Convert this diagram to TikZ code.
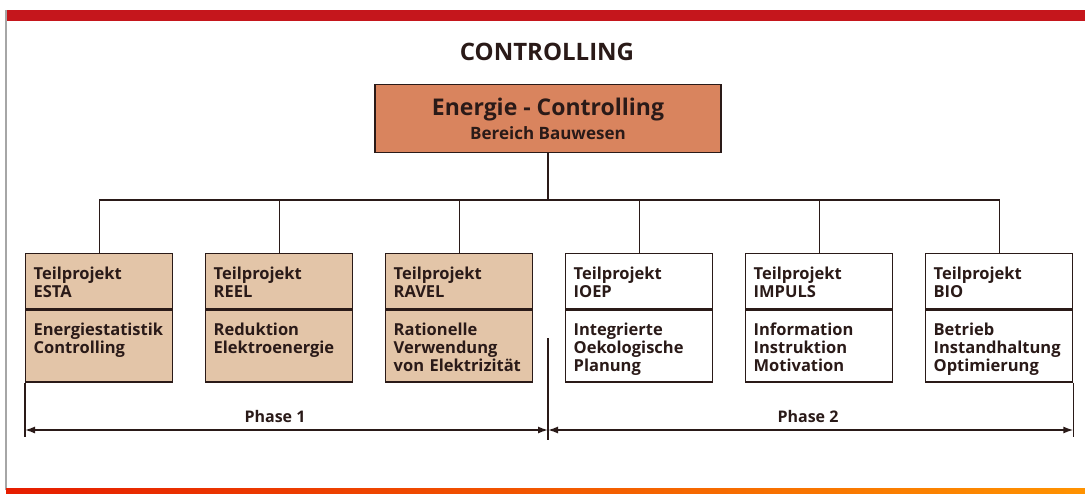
\documentclass[tikz,border=0pt]{standalone}
\usepackage{fontspec}
\setmainfont{Open Sans}
\usepackage{tikz}
\usetikzlibrary{arrows.meta,positioning,calc}
\usepackage{xcolor}

\definecolor{barred}{HTML}{C5161C}
\definecolor{headfill}{HTML}{D9845E}
\definecolor{phasefill}{HTML}{E3C5A8}
\definecolor{inkdark}{HTML}{2A1A18}

\tikzset{
  partbox/.style={draw=inkdark, line width=1.3pt, text=inkdark, text width=131pt,
    inner xsep=8pt, inner ysep=0pt, align=left, anchor=north west,
    font=\bfseries\fontsize{16.5}{18}\selectfont,
    execute at begin node={\rule{0pt}{26pt}}},
  upper/.style={partbox, execute at end node={\rule[-11pt]{0pt}{11pt}}},
  lower/.style={partbox, below=0pt of #1, execute at end node={\rule[-10pt]{0pt}{10pt}}},
  link/.style={draw=inkdark, line width=1.1pt},
  span/.style={draw=inkdark, line width=1.4pt, {Latex[length=10pt,width=7pt]}-{Latex[length=10pt,width=7pt]}},
}

\begin{document}
\begin{tikzpicture}[x=1pt,y=-1pt]
  \useasboundingbox (0,0) rectangle (1085,493);

  % frame
  \fill[barred] (6,10) rectangle (1085,21);
  \draw[gray!70, line width=1.4pt] (6,10) -- (6,490);
  \shade[left color=red!75!orange!90!black, right color=orange!85!yellow] (6,488) rectangle (1085,493);

  \node[font=\bfseries\fontsize{24}{28}\selectfont, text=inkdark] (title) at (547,52) {CONTROLLING};

  \node[draw=inkdark, line width=1.3pt, fill=headfill, text=inkdark, minimum width=346pt,
        minimum height=68pt, align=center, anchor=north] (top) at (548,84)
    {\fontsize{23}{26}\selectfont\bfseries Energie - Controlling\\[4pt]
     \fontsize{17}{19}\selectfont\bfseries Bereich Bauwesen};

  % Teilprojekte, phase 1
  \node[upper, fill=phasefill] (esta) at (25,253) {Teilprojekt\\ESTA};
  \node[lower=esta, fill=phasefill] (esta-b) {Energiestatistik\\Controlling\\\mbox{}};
  \node[upper, fill=phasefill] (reel) at (205,253) {Teilprojekt\\REEL};
  \node[lower=reel, fill=phasefill] (reel-b) {Reduktion\\Elektroenergie\\\mbox{}};
  \node[upper, fill=phasefill] (ravel) at (385,253) {Teilprojekt\\RAVEL};
  \node[lower=ravel, fill=phasefill] (ravel-b) {Rationelle\\Verwendung\\von Elektrizit\"at};

  % Teilprojekte, phase 2
  \node[upper, fill=white] (ioep) at (565,253) {Teilprojekt\\IOEP};
  \node[lower=ioep, fill=white] (ioep-b) {Integrierte\\Oekologische\\Planung};
  \node[upper, fill=white] (impuls) at (745,253) {Teilprojekt\\IMPULS};
  \node[lower=impuls, fill=white] (impuls-b) {Information\\Instruktion\\Motivation};
  \node[upper, fill=white] (bio) at (925,253) {Teilprojekt\\BIO};
  \node[lower=bio, fill=white] (bio-b) {Betrieb\\Instandhaltung\\Optimierung};

  % tree
  \coordinate (bus) at (548,200);
  \draw[link] (top.south) -- (bus);
  \foreach \p in {esta,reel,ravel,ioep,impuls,bio}
    \draw[link] (\p.north) |- (bus);

  % phases
  \coordinate (p0) at (esta-b.south west |- 0,430);
  \coordinate (pm) at (548,430);
  \coordinate (p1) at (bio-b.south east |- 0,430);
  \draw[link] (esta-b.south west) -- ($(p0)+(0,7)$);
  \draw[link] (bio-b.south east) -- ($(p1)+(0,7)$);
  \draw[link] (548,338) -- ($(pm)+(0,10)$);
  \draw[span] (p0) -- (pm);
  \draw[span] (pm) -- (p1);
  \node[font=\bfseries\fontsize{16}{18}\selectfont, text=inkdark] (ph1) at (275,416) {Phase 1};
  \node[font=\bfseries\fontsize{16}{18}\selectfont, text=inkdark] (ph2) at (808,416) {Phase 2};
\end{tikzpicture}
\end{document}
